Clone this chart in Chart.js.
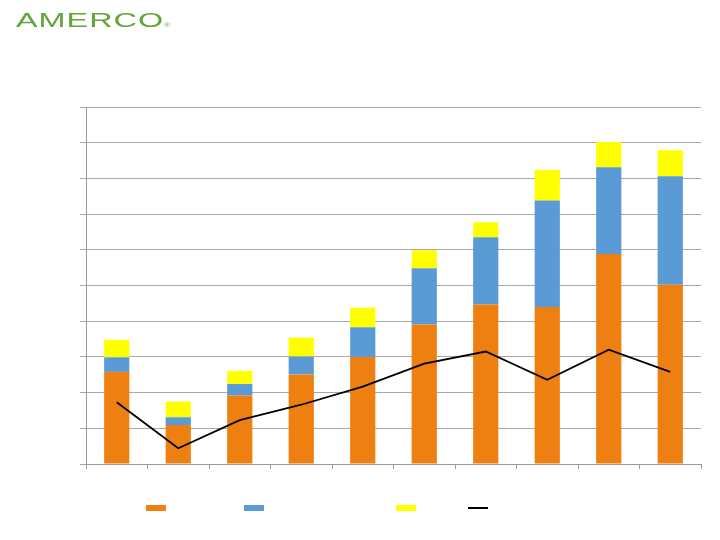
<!DOCTYPE html>
<html>
<head>
<meta charset="utf-8">
<script src="https://cdn.jsdelivr.net/npm/chart.js@4/dist/chart.umd.min.js"></script>
<style>
  html, body { margin: 0; padding: 0; background: #ffffff; }
  #wrap { position: relative; width: 720px; height: 540px; overflow: hidden; }
  #chart { position: absolute; left: 0; top: 0; }
  #logo { position: absolute; left: 16px; top: 9px; font-family: "Liberation Sans", Arial, sans-serif;
          font-size: 19.5px; color: #66a33a; transform-origin: 0 0; transform: scaleX(1.66);
          letter-spacing: 0.6px; white-space: nowrap; font-weight: normal; }
  #logo sup { font-size: 5px; vertical-align: 0; letter-spacing: 0; }
  .sw { position: absolute; }
</style>
</head>
<body>
<div id="wrap">
  <canvas id="chart" width="720" height="540"></canvas>
  <div id="logo">AMERCO<sup>®</sup></div>
  <div id="legend"></div>
</div>
<script>
// Ten fiscal periods (category labels not shown in the reference)
const categories = ["1", "2", "3", "4", "5", "6", "7", "8", "9", "10"];
const seriesNames = ["Self-moving equipment rentals", "Self-storage revenues", "Other revenues", "Earnings"];
const orangeValues = [2.58, 1.09, 1.92, 2.51, 3.00, 3.91, 4.47, 4.40, 5.88, 5.02];
const blueValues   = [0.41, 0.22, 0.32, 0.50, 0.83, 1.57, 1.88, 2.98, 2.43, 3.04];
const yellowValues = [0.49, 0.44, 0.37, 0.53, 0.55, 0.51, 0.42, 0.86, 0.71, 0.73];
const lineValues   = [1.73, 0.44, 1.23, 1.66, 2.17, 2.81, 3.15, 2.36, 3.20, 2.58];
const yMin = 0, yMax = 10, yStep = 1;

const colors = ["#EE8012", "#5B9BD5", "#FFFF00", "#000000"];

const barCommon = { type: "bar", stack: "rev", borderWidth: 0, barPercentage: 0.41, categoryPercentage: 1.0, order: 2 };

new Chart(document.getElementById("chart"), {
  data: {
    labels: categories,
    datasets: [
      Object.assign({ label: seriesNames[0], data: orangeValues, backgroundColor: colors[0] }, barCommon),
      Object.assign({ label: seriesNames[1], data: blueValues, backgroundColor: colors[1] }, barCommon),
      Object.assign({ label: seriesNames[2], data: yellowValues, backgroundColor: colors[2] }, barCommon),
      { type: "line", label: seriesNames[3], data: lineValues, stack: "line", borderColor: colors[3],
        borderWidth: 1.8, pointRadius: 0, tension: 0, fill: false, order: 0 }
    ]
  },
  options: {
    responsive: false,
    animation: false,
    layout: { padding: { top: 107, right: 19, bottom: 0, left: 0 } },
    plugins: { legend: { display: false }, tooltip: { enabled: false }, title: { display: false } },
    scales: {
      x: {
        stacked: true,
        offset: true,
        ticks: { display: false },
        grid: { display: true, drawOnChartArea: false, drawTicks: true, tickLength: 5, offset: true, color: "#9a9a9a" },
        border: { display: true, color: "#9a9a9a", width: 1 },
        afterFit: (s) => { s.height = 76; }
      },
      y: {
        stacked: true,
        min: yMin, max: yMax,
        ticks: { display: false, stepSize: yStep },
        grid: { color: "#a8a8a8", lineWidth: 1, drawTicks: true, tickLength: 6 },
        border: { display: true, color: "#9a9a9a", width: 1 },
        afterFit: (s) => { s.width = 86; }
      }
    }
  }
});

// Legend swatches (labels are not visible in the reference)
const legendPos = [146, 244, 396, 468];
const legend = document.getElementById("legend");
seriesNames.forEach((name, i) => {
  const d = document.createElement("div");
  d.className = "sw";
  d.title = name;
  d.style.left = legendPos[i] + "px";
  d.style.width = "20px";
  if (i < 3) { d.style.top = "505px"; d.style.height = "6px"; }
  else { d.style.top = "507px"; d.style.height = "2px"; }
  d.style.background = colors[i];
  legend.appendChild(d);
});
</script>
</body>
</html>
